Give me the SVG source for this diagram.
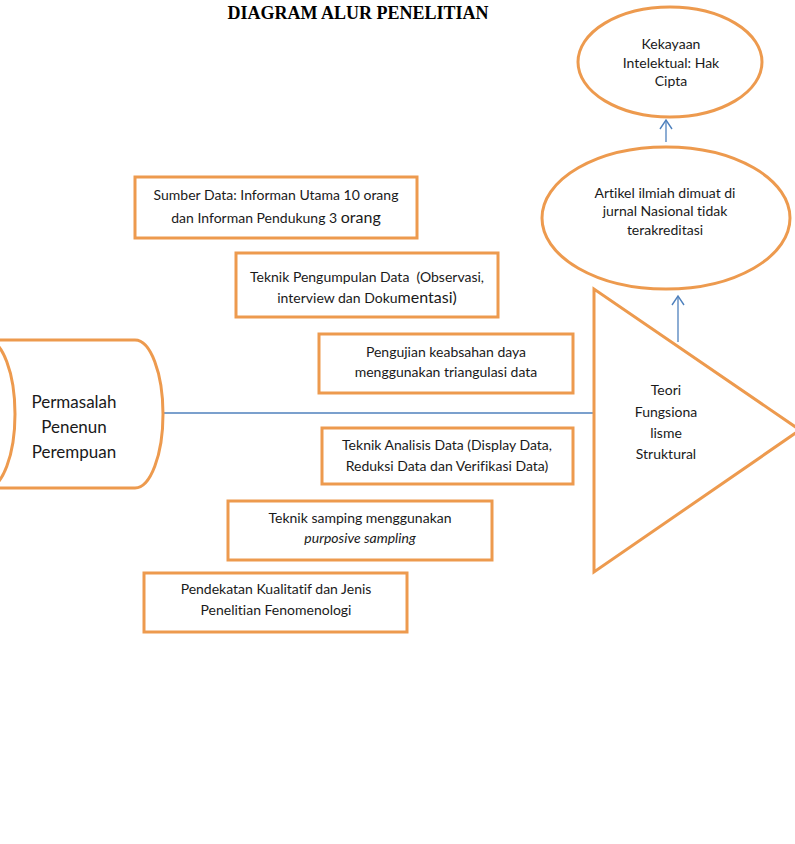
<svg xmlns="http://www.w3.org/2000/svg" width="795" height="844" viewBox="0 0 795 844">
<style>
.box{fill:#fff;stroke:#ED9A4E;stroke-width:3}
.t{font-family:Lato,"Open Sans","Liberation Sans",sans-serif;font-size:14px;fill:#1a1a1a;text-anchor:middle;font-variant-ligatures:none;font-feature-settings:"liga" 0,"clig" 0;white-space:pre}
.big{font-size:17px}
.conn{stroke:#4F81BD;stroke-width:1.3;fill:none}
.title{font-family:"Liberation Serif","Times New Roman",serif;font-weight:bold;font-size:18px;text-anchor:middle;fill:#000}
</style>
<defs>
<marker id="arr" markerWidth="12" markerHeight="14" refX="10" refY="7" orient="auto" markerUnits="userSpaceOnUse">
<path d="M1,1 L10,7 L1,13" fill="none" stroke="#4F81BD" stroke-width="1.4"/>
</marker>
</defs>
<rect width="795" height="844" fill="#fff"/>
<text class="title" x="358" y="19">DIAGRAM ALUR PENELITIAN</text>

<g id="connectors">
<line class="conn" x1="163" y1="413" x2="594" y2="413"/>
<line class="conn" x1="678" y1="342" x2="678" y2="296" marker-end="url(#arr)"/>
<line class="conn" x1="666" y1="142" x2="666" y2="120" marker-end="url(#arr)"/>
</g>

<g id="permasalah">
<path class="box" d="M-13,340 L135,340 A28,74 0 0 1 135,488 L-13,488 A28,74 0 0 1 -13,340 Z"/>
<path class="box" fill="none" d="M-13,340 A28,74 0 0 1 -13,488"/>
<text class="t big" x="74" y="408">Permasalah</text>
<text class="t big" x="74" y="433">Penenun</text>
<text class="t big" x="74" y="458">Perempuan</text>
</g>

<g id="teori">
<polygon class="box" points="594,289 594,572 800,430"/>
<text class="t" x="666" y="395">Teori</text>
<text class="t" x="666" y="417">Fungsiona</text>
<text class="t" x="666" y="438">lisme</text>
<text class="t" x="666" y="459">Struktural</text>
</g>

<g id="artikel">
<ellipse class="box" cx="666" cy="218" rx="124" ry="71"/>
<text class="t" x="665" y="198">Artikel ilmiah dimuat di</text>
<text class="t" x="665" y="216">jurnal Nasional tidak</text>
<text class="t" x="665" y="235">terakreditasi</text>
</g>

<g id="hki">
<ellipse class="box" cx="670" cy="62" rx="92" ry="55"/>
<text class="t" x="671" y="49">Kekayaan</text>
<text class="t" x="671" y="68">Intelektual: Hak</text>
<text class="t" x="671" y="86">Cipta</text>
</g>

<g id="sumber">
<rect class="box" x="135" y="177" width="282" height="61"/>
<text class="t" x="276" y="200">Sumber Data: Informan Utama 10 orang</text>
<text class="t" x="276" y="223">dan Informan Pendukung 3 <tspan font-size="16">orang</tspan></text>
</g>

<g id="pengumpulan">
<rect class="box" x="236" y="253" width="262" height="64"/>
<text class="t" x="367" y="282">Teknik Pengumpulan Data  (Observasi,</text>
<text class="t" x="367" y="303">interview dan Doku<tspan font-size="16">mentasi)</tspan></text>
</g>

<g id="pengujian">
<rect class="box" x="319" y="334" width="254" height="59"/>
<text class="t" x="446" y="357">Pengujian keabsahan daya</text>
<text class="t" x="446" y="377">menggunakan triangulasi data</text>
</g>

<g id="analisis">
<rect class="box" x="322" y="428" width="251" height="56"/>
<text class="t" x="447" y="450">Teknik Analisis Data (Display Data,</text>
<text class="t" x="447" y="471">Reduksi Data dan Verifikasi Data)</text>
</g>

<g id="sampling">
<rect class="box" x="228" y="501" width="264" height="59"/>
<text class="t" x="360" y="523">Teknik samping menggunakan</text>
<text class="t" x="360" y="543" font-style="italic">purposive sampling</text>
</g>

<g id="pendekatan">
<rect class="box" x="144" y="573" width="263" height="59"/>
<text class="t" x="276" y="594">Pendekatan Kualitatif dan Jenis</text>
<text class="t" x="276" y="615">Penelitian Fenomenologi</text>
</g>
</svg>
